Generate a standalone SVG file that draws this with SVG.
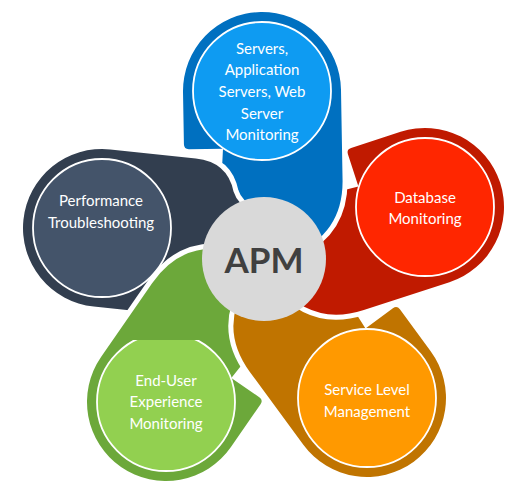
<svg xmlns="http://www.w3.org/2000/svg" width="531" height="492" viewBox="0 0 531 492">
<style>
.halo{fill:#fff;stroke:#fff;stroke-width:10;stroke-linejoin:round}
.inner{stroke:#fff;stroke-width:1.8}
.lbl{font-family:Lato,"Open Sans","Liberation Sans",sans-serif;font-size:15px;fill:#fff;text-anchor:middle}
.apm{font-family:Lato,"Liberation Sans",sans-serif;font-weight:bold;font-size:35px;fill:#404040;text-anchor:middle}
</style>
<defs>
<path id="petal" d="M -79,0 A 79,79 0 0 1 79,0 L 79,90 Q 79,144 28,164 L 0,168 L -45,130 L -40,57 L -74,57 Q -79,57 -79,52 Z"/>
<path id="petalDark" d="M -79,0 A 79,79 0 0 1 79,0 L 79,86 Q 79,118 50,127 Q 38,132 30,150 L 0,170 L -45,130 L -40,57 L -74,57 Q -79,57 -79,52 Z"/>
<clipPath id="greenClip"><rect x="0" y="0" width="228" height="340"/></clipPath>
</defs>
<rect width="531" height="492" fill="#fff"/>
<g id="node-green">
<use href="#petal" class="halo" transform="translate(166,402) rotate(214.7)"/>
<use href="#petal" fill="#6CA83A" transform="translate(166,402) rotate(214.7)"/>
<circle class="inner" cx="166" cy="402" r="69" fill="#92D050"/>
<text class="lbl" x="166" y="385.7">End-User</text>
<text class="lbl" x="166" y="407.4">Experience</text>
<text class="lbl" x="166" y="429.1">Monitoring</text>
</g>
<g id="node-orange">
<use href="#petal" class="halo" transform="translate(367,398) rotate(143.7)"/>
<use href="#petal" fill="#C07400" transform="translate(367,398) rotate(143.7)"/>
<circle class="inner" cx="367" cy="398" r="69" fill="#FF9900"/>
<text class="lbl" x="367" y="395">Service Level</text>
<text class="lbl" x="367" y="416.7">Management</text>
</g>
<g id="node-red">
<use href="#petal" class="halo" transform="translate(425,207) rotate(72)"/>
<use href="#petal" fill="#C01A00" transform="translate(425,207) rotate(72)"/>
<circle class="inner" cx="425" cy="207" r="69" fill="#FF2600"/>
<text class="lbl" x="425" y="202.7">Database</text>
<text class="lbl" x="425" y="224.4">Monitoring</text>
</g>
<g id="node-blue">
<use href="#petal" class="halo" transform="translate(262,91) rotate(-1)"/>
<use href="#petal" fill="#0070C0" transform="translate(262,91) rotate(-1)"/>
<circle class="inner" cx="262" cy="91" r="69" fill="#0E9BF2"/>
<text class="lbl" x="262" y="53.5">Servers,</text>
<text class="lbl" x="262" y="75.2">Application</text>
<text class="lbl" x="262" y="96.9">Servers, Web</text>
<text class="lbl" x="262" y="118.6">Server</text>
<text class="lbl" x="262" y="140.3">Monitoring</text>
</g>
<g id="node-dark">
<use href="#petalDark" class="halo" transform="translate(102,228) rotate(276)"/>
<use href="#petalDark" fill="#323E4F" transform="translate(102,228) rotate(276)"/>
<circle class="inner" cx="102" cy="228" r="69" fill="#44546A"/>
<text class="lbl" x="101" y="206">Performance</text>
<text class="lbl" x="101" y="228">Troubleshooting</text>
</g>
<g id="node-green-overlap" clip-path="url(#greenClip)">
<use href="#petal" class="halo" transform="translate(166,402) rotate(214.7)"/>
<use href="#petal" fill="#6CA83A" transform="translate(166,402) rotate(214.7)"/>
</g>
<g id="connectors"/>
<g id="node-apm">
<circle cx="264" cy="259" r="62" fill="#D9D9D9"/>
<text class="apm" x="264" y="273">APM</text>
</g>
</svg>
